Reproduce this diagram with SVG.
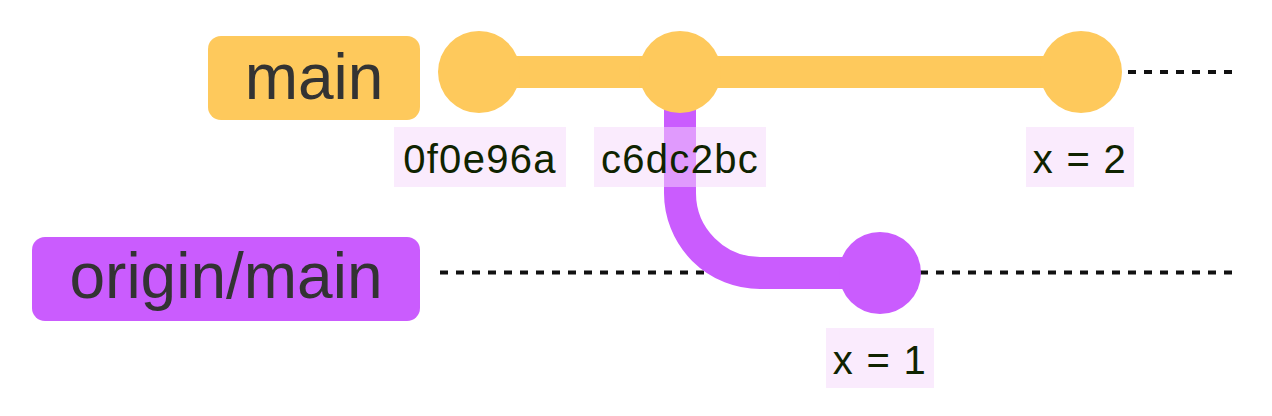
<svg xmlns="http://www.w3.org/2000/svg" width="1272" height="416" viewBox="0 0 1272 416">
<style>
.bg{fill:#ffffff}
.blabel{font-family:"Liberation Sans",Arial,sans-serif;font-size:64px;fill:#333333;text-anchor:middle}
.clabel{font-family:"Liberation Sans",Arial,sans-serif;font-size:40px;fill:#0f2300;text-anchor:middle;letter-spacing:1.3px}
.clbg{fill:#f5d8fc;opacity:0.5}
.dash{stroke:#111111;stroke-width:4;stroke-dasharray:8 8;fill:none}
.y{fill:#fec95c}
.p{fill:#ca5cfe}
</style>
<rect class="bg" x="0" y="0" width="1272" height="416"/>
<g id="connectors">
  <line class="dash" x1="1128" y1="72" x2="1232" y2="72"/>
  <line class="dash" x1="440" y1="272.5" x2="1232" y2="272.5"/>
  <line x1="479" y1="72" x2="1081" y2="72" stroke="#fec95c" stroke-width="32"/>
  <path d="M680 72 L680 193 A80 80 0 0 0 760 273 L880 273" fill="none" stroke="#ca5cfe" stroke-width="32"/>
</g>
<g id="branch-main">
  <rect class="y" x="208" y="36" width="212" height="84" rx="13"/>
  <text class="blabel" x="314" y="99">main</text>
</g>
<g id="branch-origin-main">
  <rect class="p" x="32" y="237" width="388" height="84" rx="13"/>
  <text class="blabel" x="226" y="298">origin/main</text>
</g>
<g id="commit-0f0e96a">
  <circle class="y" cx="479" cy="72" r="41"/>
  <rect class="clbg" x="394" y="127" width="172" height="60"/>
  <text class="clabel" x="480" y="173">0f0e96a</text>
</g>
<g id="commit-c6dc2bc">
  <circle class="y" cx="680" cy="72" r="41"/>
  <rect class="clbg" x="594" y="127" width="172" height="60"/>
  <text class="clabel" x="680" y="173">c6dc2bc</text>
</g>
<g id="commit-x2">
  <circle class="y" cx="1081" cy="72" r="41"/>
  <rect class="clbg" x="1026" y="127" width="108" height="60"/>
  <text class="clabel" x="1080" y="173">x = 2</text>
</g>
<g id="commit-x1">
  <circle class="p" cx="880" cy="273" r="41"/>
  <rect class="clbg" x="826" y="328" width="108" height="60"/>
  <text class="clabel" x="880" y="374">x = 1</text>
</g>
</svg>
